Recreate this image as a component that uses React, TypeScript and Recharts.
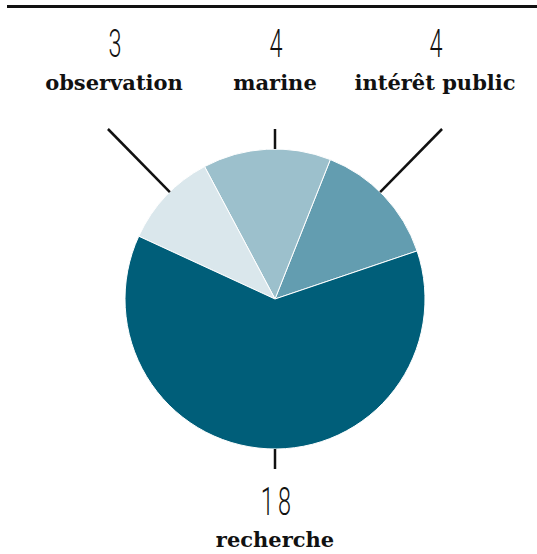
import React from "react";
import { PieChart, Pie, Cell } from "recharts";

const categories = ["intérêt public", "marine", "observation", "recherche"];
const counts = [4, 4, 3, 18];
const colors = ["#639DB0", "#9CC0CC", "#DAE7EC", "#005E79"];

// label layout: angle of the leader line, horizontal shift of the text block
const labelAngles = [45.5, 90, 134.5, 270];
const labelShift = [160, 0, -161, 0];

const data = categories.map((name, i) => ({ name, value: counts[i] }));

const RAD = Math.PI / 180;

function renderLabel(props: any) {
  const { cx, cy, outerRadius, index, value, name } = props;
  const a = labelAngles[index];
  const cos = Math.cos(a * RAD);
  const sin = Math.sin(a * RAD);
  const sx = cx + outerRadius * cos;
  const sy = cy - outerRadius * sin;
  const top = sin > 0;
  const ey = top ? cy - 170 : cy + 170;
  const t = Math.abs((ey - cy) / sin);
  const ex = cx + t * cos;
  const tx = cx + labelShift[index];
  const numY = top ? ey - 72 : ey + 46;
  const nameY = top ? ey - 40 : ey + 77;
  return (
    <g key={`lbl-${index}`}>
      <line x1={sx} y1={sy} x2={ex} y2={ey} stroke="#111" strokeWidth={2.5} />
      <g transform={`translate(${tx},${numY}) scale(0.6,1)`}>
        <text
          x={5}
          y={0}
          textAnchor="middle"
          fontFamily="Roboto"
          fontWeight={300}
          fontSize={39}
          letterSpacing={7}
          fill="#111"
        >
          {value}
        </text>
      </g>
      <text
        x={tx}
        y={nameY + 1}
        textAnchor="middle"
        fontFamily="DejaVu Serif"
        fontWeight="bold"
        fontSize={21}
        fill="#111"
      >
        {name}
      </text>
    </g>
  );
}

export default function App() {
  return (
    <div style={{ position: "relative", width: 537, height: 554, background: "#fff" }}>
      <style>{`body{margin:0;}`}</style>
      <div
        style={{
          position: "absolute",
          left: 7,
          top: 5,
          width: 530,
          height: 3,
          background: "#111",
        }}
      />
      <PieChart width={537} height={554} margin={{ top: 0, right: 0, bottom: 0, left: 0 }}>
        <Pie
          data={data}
          dataKey="value"
          nameKey="name"
          cx={275}
          cy={299}
          outerRadius={150}
          startAngle={18.7}
          endAngle={378.7}
          stroke="#fff"
          strokeWidth={1}
          label={renderLabel}
          labelLine={false}
          isAnimationActive={false}
        >
          {data.map((d, i) => (
            <Cell key={d.name} fill={colors[i]} />
          ))}
        </Pie>
      </PieChart>
    </div>
  );
}
